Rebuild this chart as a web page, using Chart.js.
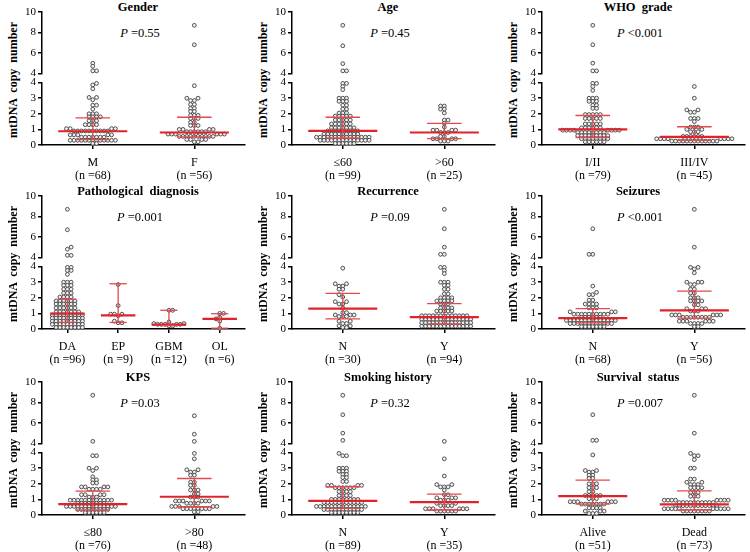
<!DOCTYPE html>
<html>
<head>
<meta charset="utf-8">
<script src="https://cdn.jsdelivr.net/npm/chart.js@4.4.0/dist/chart.umd.min.js"></script>
<style>
  body { margin: 0; background: #fff; width: 750px; height: 552px; overflow: hidden; position: relative;
         font-family: "Liberation Serif", "Times New Roman", serif; color: #000; }
  .panel { position: absolute; width: 250px; height: 184px; }
  .panel canvas { position: absolute; left: 0; }
  .ttl { position: absolute; left: 38px; width: 200px; top: 0; text-align: center; font-weight: bold; font-size: 12.5px; }
  .pv { position: absolute; left: 40px; width: 200px; top: 26px; text-align: center; font-size: 12.5px; }
  .ylab { position: absolute; left: 13px; top: 80px; transform: translate(-50%, -50%) rotate(-90deg);
          white-space: nowrap; font-weight: bold; font-size: 12px; word-spacing: 3px; }
</style>
</head>
<body>
<script>
const genderLabels = ['M', 'F'];
const genderN = [68, 56];
const genderM = [[5.0,1],[4.7,1],[4.25,2],[3.95,1],[3.85,1],[3.6,1],[3.05,2],[2.9,1],[2.55,2],[2.3,1],[2.0,3],[1.8,4],[1.55,3],[1.3,4],[1.05,4],[0.9,10],[0.65,5],[0.5,7],[0.3,13],[0.1,2]];
const genderF = [[8.7,1],[6.8,1],[3.8,1],[3.0,2],[2.85,2],[2.6,2],[2.35,2],[2.15,2],[1.9,3],[1.7,3],[1.45,2],[1.25,3],[1.0,4],[0.85,6],[0.7,6],[0.55,10],[0.35,4],[0.2,2]];
const genderMed = [0.88, 0.80], genderQ1 = [0.35, 0.52], genderQ3 = [1.74, 1.78];

const ageLabels = ['≤60', '>60'];
const ageN = [99, 25];
const ageLow = [[8.7,1],[6.7,1],[4.95,1],[4.25,2],[3.95,2],[3.75,1],[3.55,1],[3.0,3],[2.8,3],[2.55,2],[2.3,2],[2.05,3],[1.85,5],[1.6,5],[1.35,6],[1.1,7],[0.9,9],[0.7,10],[0.5,15],[0.3,14],[0.1,6]];
const ageHigh = [[2.5,2],[2.3,2],[2.05,1],[1.6,2],[1.4,1],[1.15,1],[0.95,4],[0.8,3],[0.55,2],[0.4,4],[0.25,3]];
const ageMed = [0.91, 0.80], ageQ1 = [0.45, 0.41], ageQ3 = [1.78, 1.39];

const whoLabels = ['I/II', 'III/IV'];
const whoN = [79, 45];
const whoLow = [[8.7,1],[6.8,1],[5.0,1],[4.25,2],[3.95,2],[3.75,1],[3.5,1],[3.0,3],[2.8,3],[2.55,2],[2.35,2],[1.95,5],[1.7,5],[1.35,5],[1.1,6],[0.95,8],[0.8,8],[0.6,9],[0.4,8],[0.2,6]];
const whoHigh = [[3.75,1],[3.0,1],[2.25,2],[2.1,2],[1.7,3],[1.5,1],[1.15,3],[1.0,2],[0.85,3],[0.55,6],[0.4,8],[0.25,13]];
const whoMed = [1.0, 0.52], whoQ1 = [0.48, 0.3], whoQ3 = [1.89, 1.17];

const pathLabels = ['DA', 'EP', 'GBM', 'OL'];
const pathN = [96, 9, 12, 6];
const pathDA = [[8.7,1],[6.7,1],[5.0,1],[4.8,1],[4.2,2],[3.95,2],[3.75,2],[3.5,1],[3.0,3],[2.8,3],[2.55,3],[2.3,3],[2.05,4],[1.8,6],[1.6,6],[1.35,6],[1.1,7],[0.9,9],[0.7,9],[0.5,9],[0.3,9],[0.1,8]];
const pathEP = [[2.85,1],[1.5,1],[0.95,3],[0.85,1],[0.5,1],[0.4,2]];
const pathGBM = [[1.2,2],[0.45,1],[0.35,2],[0.3,5],[0.2,2]];
const pathOL = [[1.0,2],[0.75,1],[0.65,1],[0.5,1],[0.05,1]];
const pathMed = [0.98, 0.87, 0.28, 0.65], pathQ1 = [0.43, 0.42, 0.22, 0.05], pathQ3 = [1.91, 2.9, 1.2, 0.98];

const recLabels = ['N', 'Y'];
const recN = [30, 94];
const recNo = [[3.9,1],[2.9,2],[2.75,2],[2.55,2],[2.2,1],[2.05,1],[1.75,2],[1.6,2],[1.35,1],[1.05,2],[0.9,3],[0.8,3],[0.5,2],[0.35,2],[0.2,2],[0.1,2]];
const recYes = [[8.7,1],[6.8,1],[5.0,1],[4.3,2],[3.95,2],[3.75,1],[3.55,1],[3.0,3],[2.8,2],[2.55,2],[2.25,2],[2.0,4],[1.8,5],[1.6,3],[1.35,4],[1.15,5],[0.85,13],[0.62,14],[0.4,14],[0.18,14]];
const recMed = [1.3, 0.76], recQ1 = [0.65, 0.33], recQ3 = [2.28, 1.63];

const seizLabels = ['N', 'Y'];
const seizN = [68, 56];
const seizNo = [[6.8,1],[4.3,2],[2.75,1],[2.35,1],[2.2,2],[1.85,2],[1.6,4],[1.35,3],[1.1,3],[0.95,10],[0.75,6],[0.55,14],[0.35,12],[0.15,7]];
const seizYes = [[8.7,1],[5.0,1],[3.95,2],[3.85,1],[3.6,1],[3.0,3],[2.85,2],[2.55,2],[2.3,2],[2.0,3],[1.8,4],[1.55,2],[1.3,3],[1.15,3],[0.9,6],[0.75,8],[0.5,6],[0.35,4],[0.15,2]];
const seizMed = [0.7, 1.2], seizQ1 = [0.39, 0.7], seizQ3 = [1.3, 2.43];

const kpsLabels = ['≤80', '>80'];
const kpsN = [76, 48];
const kpsLow = [[8.7,1],[4.2,1],[3.8,2],[3.0,2],[2.85,1],[2.45,1],[2.25,2],[2.05,2],[1.8,4],[1.65,4],[1.3,4],[1.15,3],[0.95,12],[0.75,8],[0.55,14],[0.35,9],[0.15,6]];
const kpsHigh = [[6.7,1],[4.9,1],[4.2,1],[3.95,1],[3.6,1],[2.9,2],[2.75,2],[2.55,2],[2.1,2],[1.9,2],[1.6,3],[1.35,2],[1.15,3],[0.9,6],[0.75,4],[0.55,5],[0.4,8],[0.2,2]];
const kpsMed = [0.7, 1.17], kpsQ1 = [0.32, 0.53], kpsQ3 = [1.53, 2.34];

const smokeLabels = ['N', 'Y'];
const smokeN = [89, 35];
const smokeNo = [[8.7,1],[6.8,1],[5.0,1],[4.3,1],[3.95,1],[3.8,2],[3.0,3],[2.8,3],[2.6,2],[2.4,2],[2.15,2],[1.9,4],[1.75,6],[1.5,4],[1.25,4],[1.0,8],[0.8,11],[0.55,14],[0.35,11],[0.15,8]];
const smokeYes = [[4.2,1],[3.6,1],[2.5,1],[1.95,2],[1.8,3],[1.6,1],[1.3,2],[1.1,3],[0.95,3],[0.75,2],[0.6,4],[0.4,6],[0.25,6]];
const smokeMed = [0.91, 0.83], smokeQ1 = [0.43, 0.32], smokeQ3 = [1.81, 1.34];

const survLabels = ['Alive', 'Dead'];
const survN = [51, 73];
const survAlive = [[6.8,1],[4.3,2],[3.85,1],[2.85,2],[2.75,2],[2.55,2],[2.35,2],[2.0,3],[1.75,3],[1.5,2],[1.25,5],[1.05,3],[0.85,6],[0.7,7],[0.45,4],[0.25,3],[0.1,3]];
const survDead = [[8.7,1],[5.0,1],[3.95,1],[3.8,2],[3.55,1],[3.0,2],[2.3,2],[2.1,2],[1.95,3],[1.75,4],[1.45,3],[1.2,3],[0.95,8],[0.8,10],[0.6,12],[0.4,10],[0.25,8]];
const survMed = [1.21, 0.68], survQ1 = [0.7, 0.32], survQ3 = [2.23, 1.55];

const upperTicks = [4, 6, 8, 10];
const lowerTicks = [0, 1, 2, 3, 4];

const panels = [
  { title: 'Gender', p: '=0.55', labels: genderLabels, n: genderN, groups: [genderM, genderF], med: genderMed, q1: genderQ1, q3: genderQ3 },
  { title: 'Age', p: '=0.45', labels: ageLabels, n: ageN, groups: [ageLow, ageHigh], med: ageMed, q1: ageQ1, q3: ageQ3 },
  { title: 'WHO&nbsp; grade', p: '&lt;0.001', labels: whoLabels, n: whoN, groups: [whoLow, whoHigh], med: whoMed, q1: whoQ1, q3: whoQ3 },
  { title: 'Pathological&nbsp; diagnosis', p: '=0.001', labels: pathLabels, n: pathN, groups: [pathDA, pathEP, pathGBM, pathOL], med: pathMed, q1: pathQ1, q3: pathQ3 },
  { title: 'Recurrence', p: '=0.09', labels: recLabels, n: recN, groups: [recNo, recYes], med: recMed, q1: recQ1, q3: recQ3 },
  { title: 'Seizures', p: '&lt;0.001', labels: seizLabels, n: seizN, groups: [seizNo, seizYes], med: seizMed, q1: seizQ1, q3: seizQ3 },
  { title: 'KPS', p: '=0.03', labels: kpsLabels, n: kpsN, groups: [kpsLow, kpsHigh], med: kpsMed, q1: kpsQ1, q3: kpsQ3 },
  { title: 'Smoking history', p: '=0.32', labels: smokeLabels, n: smokeN, groups: [smokeNo, smokeYes], med: smokeMed, q1: smokeQ1, q3: smokeQ3 },
  { title: 'Survival&nbsp; status', p: '=0.007', labels: survLabels, n: survN, groups: [survAlive, survDead], med: survMed, q1: survQ1, q3: survQ3 }
];

const FONT = '"Liberation Serif", "Times New Roman", serif';
const ROW_TOP = [0, 184, 370];
const PLOT_W = 205;          // px between y axis and end of x axis
const SPLIT = 4.1;           // values above this go into the upper (4-10) segment
const GAP_X = 3.8;           // horizontal dot spacing in px
const GAP_Y = 2.8;           // dots closer than this vertically share a row
const LOW_PXU = 15.5, UP_PXU = 10.2;
const RED = '#e0232b', RED2 = '#e4474d';

function expand(rows) {
  const out = [];
  rows.forEach(([v, c]) => { for (let i = 0; i < c; i++) out.push(v); });
  return out;
}

function yPx(v) { return v <= SPLIT ? v * LOW_PXU : 1000 + v * UP_PXU; }

// graphpad-ish swarm: dots in the same band are spread sideways, alternating left/right
function swarmOffsets(values) {
  const idx = values.map((v, i) => i).sort((a, b) => values[a] - values[b]);
  const placed = [], off = new Array(values.length);
  let flip = false;
  idx.forEach(i => {
    const y = yPx(values[i]);
    const blocks = [];
    placed.forEach(p => {
      if (Math.abs(p.y - y) < GAP_Y) blocks.push([p.x - GAP_X, p.x + GAP_X]);
    });
    const cands = [0];
    blocks.forEach(b => cands.push(b[0], b[1]));
    cands.sort((a, b) => (Math.abs(a) - Math.abs(b)) || (flip ? b - a : a - b));
    const x = cands.find(c => blocks.every(b => c <= b[0] + 1e-6 || c >= b[1] - 1e-6));
    flip = !flip;
    placed.push({ x, y });
    off[i] = x;
  });
  return off;
}

function seg(x0, x1, y0, y1, color, w) {
  return { type: 'line', data: [{ x: x0, y: y0 }, { x: x1, y: y1 }], borderColor: color, borderWidth: w,
           pointRadius: 0, showLine: true, clip: false, order: 0 };
}

function dots(data) {
  return { type: 'scatter', data, pointRadius: 1.9, borderWidth: 0.9, borderColor: '#404040',
           backgroundColor: '#f2f2f2', clip: false, order: 1 };
}

function axisY(min, max, ticks) {
  return {
    type: 'linear', min, max,
    afterBuildTicks: s => { s.ticks = ticks.map(v => ({ value: v })); },
    afterFit: s => { s.width = 42; },
    border: { display: true, color: '#000', width: 1.5 },
    grid: { drawOnChartArea: false, drawTicks: true, tickLength: 4, color: '#000', lineWidth: 1.5 },
    ticks: { autoSkip: false, color: '#000', font: { family: FONT, size: 11 }, padding: 2 }
  };
}

const common = {
  responsive: false, animation: false, events: [],
  plugins: { legend: { display: false }, tooltip: { enabled: false } }
};

panels.forEach((p, k) => {
  const col = k % 3, row = Math.floor(k / 3);
  const div = document.createElement('div');
  div.className = 'panel';
  div.style.left = (col * 250) + 'px';
  div.style.top = ROW_TOP[row] + 'px';
  div.innerHTML = '<div class="ttl">' + p.title + '</div>' +
    '<div class="pv"><i>P</i> ' + p.p + '</div>' +
    '<div class="ylab">mtDNA copy number</div>' +
    '<canvas class="up" width="250" height="82" style="top:0"></canvas>' +
    '<canvas class="lo" width="250" height="110" style="top:74px"></canvas>';
  document.body.appendChild(div);

  const nG = p.labels.length;
  const pxU = PLOT_W / nG;
  const up = [], lo = [];
  p.groups.forEach((rows, g) => {
    const vals = expand(rows);
    const off = swarmOffsets(vals);
    vals.forEach((v, i) => (v > SPLIT ? up : lo).push({ x: g + off[i] / pxU, y: v }));
  });

  const lines = [];
  p.med.forEach((m, g) => {
    lines.push(seg(g - 0.17, g + 0.17, p.q1[g], p.q1[g], RED2, 1.3));
    lines.push(seg(g - 0.17, g + 0.17, p.q3[g], p.q3[g], RED2, 1.3));
    lines.push(seg(g, g, p.q1[g], p.q3[g], RED2, 1.3));
    lines.push(seg(g - 0.34, g + 0.34, m, m, RED, 2.2));
  });

  new Chart(div.querySelector('.up'), {
    type: 'scatter',
    data: { datasets: [dots(up)] },
    options: Object.assign({}, common, {
      layout: { padding: { top: 12, bottom: 5, left: 0, right: 3 } },
      scales: {
        x: { type: 'linear', min: -0.5, max: nG - 0.5, display: false },
        y: axisY(4, 10, upperTicks)
      }
    })
  });

  new Chart(div.querySelector('.lo'), {
    type: 'scatter',
    data: { datasets: [dots(lo)].concat(lines) },
    options: Object.assign({}, common, {
      layout: { padding: { top: 5, bottom: 0, left: 0, right: 3 } },
      scales: {
        x: {
          type: 'linear', min: -0.5, max: nG - 0.5,
          afterBuildTicks: s => { s.ticks = p.labels.map((_, i) => ({ value: i })); },
          afterFit: s => { s.height = 39; },
          border: { display: true, color: '#000', width: 1.5 },
          grid: { drawOnChartArea: false, drawTicks: true, tickLength: 4, color: '#000', lineWidth: 1.5 },
          ticks: {
            autoSkip: false, maxRotation: 0, color: '#000', padding: 7,
            font: { family: FONT, size: 12, lineHeight: 1.1 },
            callback: (v, i) => [p.labels[i], '(n =' + p.n[i] + ')']
          }
        },
        y: axisY(0, 4, lowerTicks)
      }
    })
  });
});
</script>
</body>
</html>
